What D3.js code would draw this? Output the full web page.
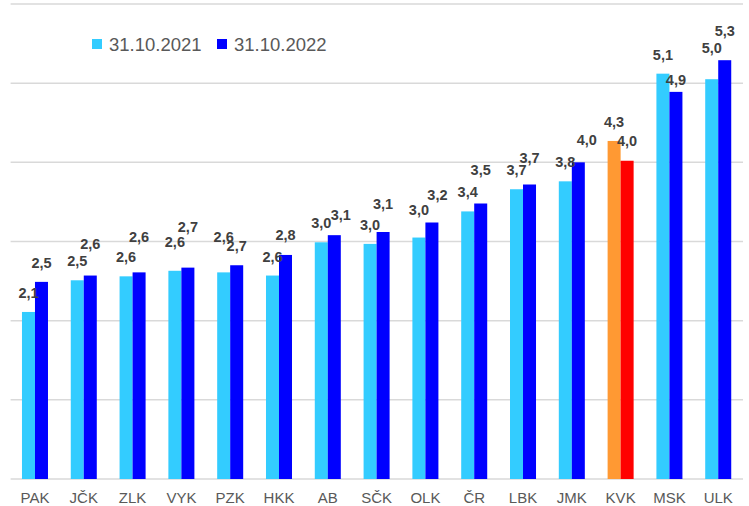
<!DOCTYPE html>
<html>
<head>
<meta charset="utf-8">
<script src="https://cdn.jsdelivr.net/npm/d3@7"></script>
<style>
  body { margin: 0; background: #fff; }
  svg { display: block; font-family: "Liberation Sans", Arial, sans-serif; }
</style>
</head>
<body>
<div id="chart"></div>
<script>
// data
const regions = ["PAK", "JČK", "ZLK", "VYK", "PZK", "HKK", "AB", "SČK", "OLK", "ČR", "LBK", "JMK", "KVK", "MSK", "ULK"];
const values2021 = [2.11, 2.51, 2.56, 2.63, 2.61, 2.57, 2.99, 2.97, 3.05, 3.38, 3.66, 3.76, 4.27, 5.12, 5.05];
const values2022 = [2.49, 2.57, 2.61, 2.67, 2.70, 2.83, 3.08, 3.12, 3.24, 3.48, 3.72, 4.00, 4.02, 4.89, 5.29];
const labels2021 = ["2,1", "2,5", "2,6", "2,6", "2,6", "2,6", "3,0", "3,0", "3,0", "3,4", "3,7", "3,8", "4,3", "5,1", "5,0"];
const labels2022 = ["2,5", "2,6", "2,6", "2,7", "2,7", "2,8", "3,1", "3,1", "3,2", "3,5", "3,7", "4,0", "4,0", "4,9", "5,3"];
const seriesNames = ["31.10.2021", "31.10.2022"];
const yTicks = [0, 1, 2, 3, 4, 5, 6];

const highlight = "KVK";
const colors = {a: "#33ccff", b: "#0000ff", ha: "#ff9933", hb: "#ff0000"};

// labels were moved by hand in the original (px, relative to the default spot)
const nudgeY2021 = [0, 0, 0, -9.5, -16, 0, 0, 0, -9, 0, 0, 0, 0, 0, -12.5];
const nudgeY2022 = [0, -13, -16, -22, 0, -1, -1, -8.7, -8.5, -14.5, -8, -3.3, -1, 7, -10];
const nudgeX2022 = [0, 0, 0, 0, 0, 0, 6.5, 0, 5.5, 0, 0, 8.5, 0, 0, 0];

const W = 749, H = 506;
const svg = d3.select("#chart").append("svg")
    .attr("width", W)
    .attr("height", H);

const x = d3.scaleBand()
    .domain(regions)
    .range([10.6, 742.6])
    .paddingInner(0.467)
    .paddingOuter(0.233);

const x1 = d3.scaleBand()
    .domain(["a", "b"])
    .range([0, x.bandwidth()]);

const y = d3.scaleLinear()
    .domain([0, 6])
    .range([479, 4]);

// gridlines
svg.append("g")
    .selectAll("line")
    .data(yTicks)
    .join("line")
    .attr("x1", 10.6)
    .attr("x2", 743)
    .attr("y1", d => y(d))
    .attr("y2", d => y(d))
    .attr("stroke", "#d9d9d9")
    .attr("stroke-width", 1.5);

const rows = regions.map((r, i) => ({
    region: r,
    a: values2021[i], b: values2022[i],
    la: labels2021[i], lb: labels2022[i],
    i
}));

const groups = svg.append("g")
    .selectAll("g")
    .data(rows)
    .join("g")
    .attr("transform", d => `translate(${x(d.region)},0)`);

groups.selectAll("rect")
    .data(d => ["a", "b"].map(k => ({k, v: d[k], region: d.region})))
    .join("rect")
    .attr("x", d => x1(d.k))
    .attr("width", x1.bandwidth())
    .attr("y", d => y(d.v))
    .attr("height", d => y(0) - y(d.v))
    .attr("fill", d => d.region === highlight ? colors["h" + d.k] : colors[d.k]);

// data labels
const labelDefault = -19;
groups.append("text")
    .attr("x", d => x1("a") + x1.bandwidth() / 2)
    .attr("y", d => y(d.a) + labelDefault + nudgeY2021[d.i] + 5)
    .text(d => d.la);
groups.append("text")
    .attr("x", d => x1("b") + x1.bandwidth() / 2 + nudgeX2022[d.i])
    .attr("y", d => y(d.b) + labelDefault + nudgeY2022[d.i] + 5)
    .text(d => d.lb);
groups.selectAll("text")
    .attr("text-anchor", "middle")
    .attr("font-size", "14.5px")
    .attr("font-weight", "bold")
    .attr("fill", "#404040");

// x axis
const xAxis = svg.append("g")
    .attr("transform", `translate(0,${y(0)})`)
    .call(d3.axisBottom(x).tickSize(0).tickPadding(13.5));
xAxis.select(".domain").remove();
xAxis.selectAll("text")
    .attr("font-size", "15px")
    .attr("font-family", "'Liberation Sans', Arial, sans-serif")
    .attr("fill", "#595959");

// legend
const legend = svg.append("g");
const legendX = [92, 217];
seriesNames.forEach((name, i) => {
    legend.append("rect")
        .attr("x", legendX[i])
        .attr("y", 39)
        .attr("width", 10)
        .attr("height", 10)
        .attr("fill", i === 0 ? colors.a : colors.b);
    legend.append("text")
        .attr("x", legendX[i] + 17)
        .attr("y", 51)
        .attr("font-size", "18.5px")
        .attr("fill", "#595959")
        .text(name);
});
</script>
</body>
</html>
